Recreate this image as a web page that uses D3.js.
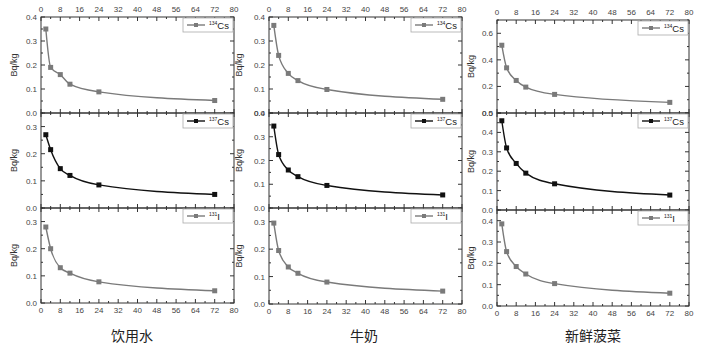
<!DOCTYPE html>
<html>
<head>
<meta charset="utf-8">
<script src="https://cdn.jsdelivr.net/npm/d3@7"></script>
<style>
  body { margin: 0; background: #fff; }
  text { font-family: "Liberation Sans", Arial, sans-serif; }
</style>
</head>
<body>
<svg id="mainSvg" width="701" height="346"></svg>
<script>
// sampling times (h)
var hours = [2, 4, 8, 12, 24, 72];
var xTicks = [0, 8, 16, 24, 32, 40, 48, 56, 64, 72, 80];

var columnTitles = ["饮用水", "牛奶", "新鲜菠菜"];
var nuclideMass = ["134", "137", "131"];
var nuclideElem = ["Cs", "Cs", "I"];

// Bq/kg
var water134 = [0.35, 0.19, 0.16, 0.12, 0.088, 0.052];
var water137 = [0.27, 0.215, 0.145, 0.12, 0.085, 0.05];
var water131 = [0.28, 0.20, 0.13, 0.11, 0.078, 0.045];

var milk134 = [0.365, 0.24, 0.165, 0.135, 0.098, 0.057];
var milk137 = [0.345, 0.225, 0.16, 0.132, 0.095, 0.055];
var milk131 = [0.295, 0.195, 0.135, 0.112, 0.08, 0.047];

var spinach134 = [0.51, 0.34, 0.245, 0.195, 0.14, 0.08];
var spinach137 = [0.46, 0.32, 0.24, 0.19, 0.135, 0.077];
var spinach131 = [0.385, 0.255, 0.185, 0.15, 0.105, 0.06];

// y axis maxima and label steps per panel
var waterYMax = [0.4, 0.35, 0.35];
var milkYMax = [0.4, 0.4, 0.35];
var spinachYMax = [0.7, 0.5, 0.45];
var waterYStep = [0.1, 0.1, 0.1];
var milkYStep = [0.1, 0.1, 0.1];
var spinachYStep = [0.2, 0.1, 0.1];

var seriesColor = ["#7a7a7a", "#111", "#7a7a7a"];

var columns = [
  { title: columnTitles[0], series: [water134, water137, water131], yMax: waterYMax, yStep: waterYStep,
    left: 41, right: 234, bands: [[17, 113], [113, 208], [208, 303]], labelX: 17, titleX: 132 },
  { title: columnTitles[1], series: [milk134, milk137, milk131], yMax: milkYMax, yStep: milkYStep,
    left: 269, right: 462, bands: [[17, 113], [113, 208], [208, 304]], labelX: 242, titleX: 364 },
  { title: columnTitles[2], series: [spinach134, spinach137, spinach131], yMax: spinachYMax, yStep: spinachYStep,
    left: 497, right: 689, bands: [[20, 113], [113, 210], [210, 306]], labelX: 474, titleX: 593 }
];

var svg = d3.select("#mainSvg");
var fmt = d3.format(".1f");

columns.forEach(function(col) {
  var x = d3.scaleLinear().domain([0, 80]).range([col.left, col.right]);
  var minorX = d3.range(0, 81, 4);

  col.series.forEach(function(vals, i) {
    var top = col.bands[i][0], bottom = col.bands[i][1];
    var y = d3.scaleLinear().domain([0, col.yMax[i]]).range([bottom, top]);
    var g = svg.append("g").attr("class", "panel");
    var step = col.yStep[i];
    var majorY = d3.range(0, col.yMax[i] + 1e-9, step);
    var minorY = d3.range(0, col.yMax[i] + 1e-9, step / 2);

    // frame
    g.append("rect")
      .attr("x", col.left).attr("y", top)
      .attr("width", col.right - col.left).attr("height", bottom - top)
      .attr("fill", "none").attr("stroke", "#333").attr("stroke-width", 1);

    // ticks, inward on all sides
    var tk = g.append("g").attr("stroke", "#333").attr("stroke-width", 1);
    minorX.forEach(function(v) {
      var len = (v % 8 === 0) ? 4 : 2;
      tk.append("line").attr("x1", x(v)).attr("x2", x(v)).attr("y1", bottom).attr("y2", bottom - len);
      tk.append("line").attr("x1", x(v)).attr("x2", x(v)).attr("y1", top).attr("y2", top + len);
    });
    minorY.forEach(function(v, j) {
      var len = (j % 2 === 0) ? 4 : 2;
      tk.append("line").attr("x1", col.left).attr("x2", col.left + len).attr("y1", y(v)).attr("y2", y(v));
      tk.append("line").attr("x1", col.right).attr("x2", col.right - len).attr("y1", y(v)).attr("y2", y(v));
    });

    // y labels
    g.selectAll(".ylab").data(majorY).enter().append("text")
      .attr("x", col.left - 4).attr("y", function(d) { return y(d) + 3; })
      .attr("text-anchor", "end").attr("font-size", 8).attr("fill", "#444")
      .text(function(d) { return fmt(d); });

    // x labels: top on first panel, bottom on last one
    if (i === 0) {
      g.selectAll(".xlabT").data(xTicks).enter().append("text")
        .attr("x", function(d) { return x(d); }).attr("y", top - 5)
        .attr("text-anchor", "middle").attr("font-size", 8).attr("fill", "#444")
        .text(function(d) { return d; });
    }
    if (i === 2) {
      g.selectAll(".xlabB").data(xTicks).enter().append("text")
        .attr("x", function(d) { return x(d); }).attr("y", bottom + 10)
        .attr("text-anchor", "middle").attr("font-size", 8).attr("fill", "#444")
        .text(function(d) { return d; });
    }

    // y axis title
    g.append("text")
      .attr("transform", "translate(" + col.labelX + "," + ((top + bottom) / 2) + ") rotate(-90)")
      .attr("text-anchor", "middle").attr("font-size", 9).attr("fill", "#333")
      .text("Bq/kg");

    // curve + markers
    var pts = hours.map(function(h, k) { return [h, vals[k]]; });
    var line = d3.line()
      .x(function(d) { return x(d[0]); })
      .y(function(d) { return y(d[1]); })
      .curve(d3.curveMonotoneX);
    g.append("path").attr("d", line(pts))
      .attr("fill", "none").attr("stroke", seriesColor[i]).attr("stroke-width", 1.4);
    g.selectAll(".pt").data(pts).enter().append("rect")
      .attr("x", function(d) { return x(d[0]) - 2.5; })
      .attr("y", function(d) { return y(d[1]) - 2.5; })
      .attr("width", 5).attr("height", 5)
      .attr("fill", seriesColor[i]);

    // legend
    var lw = 50, lh = 14;
    var lx = col.right - lw - 1, ly = top + 1;
    var lg = g.append("g");
    lg.append("rect").attr("x", lx).attr("y", ly).attr("width", lw).attr("height", lh)
      .attr("fill", "#fff").attr("stroke", "#aaa").attr("stroke-width", 0.8);
    lg.append("line").attr("x1", lx + 4).attr("x2", lx + 22).attr("y1", ly + lh / 2).attr("y2", ly + lh / 2)
      .attr("stroke", seriesColor[i]).attr("stroke-width", 1.4);
    lg.append("rect").attr("x", lx + 11).attr("y", ly + lh / 2 - 2).attr("width", 4).attr("height", 4)
      .attr("fill", seriesColor[i]);
    var lt = lg.append("text").attr("x", lx + 26).attr("y", ly + lh / 2 + 3.5)
      .attr("font-size", 9.5).attr("fill", "#222");
    lt.append("tspan").attr("font-size", 5).attr("dy", -4).text(nuclideMass[i]);
    lt.append("tspan").attr("dy", 4).text(nuclideElem[i]);
  });

  svg.append("text")
    .attr("x", col.titleX).attr("y", 341)
    .attr("text-anchor", "middle")
    .attr("font-size", 14)
    .attr("fill", "#222")
    .style("font-family", "'Noto Sans CJK SC', sans-serif")
    .text(col.title);
});
</script>
</body>
</html>
